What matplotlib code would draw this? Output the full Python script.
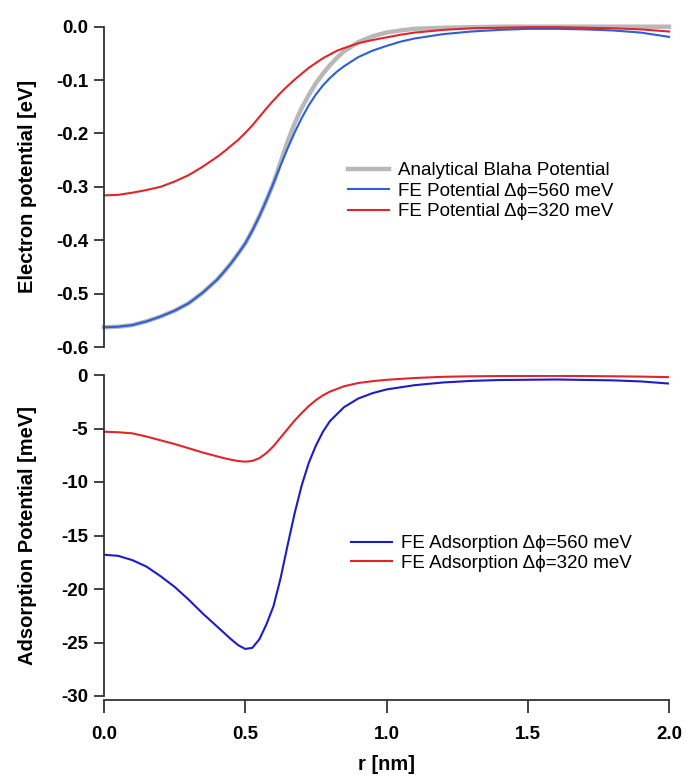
import matplotlib
matplotlib.use('Agg')
import matplotlib.pyplot as plt
from matplotlib.ticker import FormatStrFormatter

plt.rcParams['font.family'] = ['Liberation Sans', 'DejaVu Sans']
plt.rcParams['axes.unicode_minus'] = False

# top panel: electron potential [eV] vs r [nm]
r_pot = [0.0, 0.05, 0.1, 0.15, 0.2, 0.25, 0.3, 0.35, 0.4, 0.425, 0.45, 0.475, 0.5, 0.525,
         0.55, 0.575, 0.6, 0.625, 0.65, 0.675, 0.7, 0.725, 0.75, 0.775, 0.8, 0.825, 0.85,
         0.9, 0.95, 1.0, 1.05, 1.1, 1.2, 1.3, 1.4, 1.5, 1.6, 1.7, 1.8, 1.9, 2.0]
blaha = [-0.563, -0.562, -0.559, -0.552, -0.543, -0.532, -0.518, -0.498, -0.474, -0.459,
         -0.443, -0.425, -0.406, -0.382, -0.355, -0.325, -0.293, -0.254, -0.215, -0.181,
         -0.152, -0.128, -0.106, -0.088, -0.072, -0.058, -0.046, -0.029, -0.018, -0.011,
         -0.007, -0.004, -0.002, -0.001, 0.0, 0.0, 0.0, 0.0, 0.0, 0.0, 0.0]
fe_560 = [-0.563, -0.562, -0.559, -0.552, -0.543, -0.532, -0.518, -0.498, -0.474, -0.459,
          -0.443, -0.425, -0.406, -0.382, -0.355, -0.325, -0.293, -0.260, -0.228, -0.198,
          -0.171, -0.147, -0.127, -0.110, -0.096, -0.084, -0.074, -0.057, -0.045, -0.036,
          -0.028, -0.022, -0.014, -0.009, -0.006, -0.004, -0.004, -0.005, -0.007, -0.011,
          -0.019]
fe_320 = [-0.316, -0.315, -0.311, -0.306, -0.300, -0.290, -0.278, -0.262, -0.244, -0.234,
          -0.223, -0.212, -0.199, -0.185, -0.169, -0.153, -0.138, -0.124, -0.111, -0.099,
          -0.088, -0.077, -0.068, -0.059, -0.052, -0.045, -0.040, -0.031, -0.025, -0.020,
          -0.015, -0.011, -0.006, -0.003, -0.002, -0.001, -0.001, -0.002, -0.003, -0.005,
          -0.009]

# bottom panel: adsorption potential [meV]
r_ads = [0.0, 0.05, 0.1, 0.15, 0.2, 0.25, 0.3, 0.35, 0.4, 0.425, 0.45, 0.475, 0.5, 0.525,
         0.55, 0.575, 0.6, 0.625, 0.65, 0.675, 0.7, 0.725, 0.75, 0.775, 0.8, 0.85, 0.9,
         0.95, 1.0, 1.1, 1.2, 1.3, 1.4, 1.6, 1.8, 1.9, 2.0]
ads_560 = [-16.8, -16.9, -17.3, -17.9, -18.8, -19.8, -21.0, -22.3, -23.5, -24.1, -24.7,
           -25.25, -25.6, -25.5, -24.7, -23.3, -21.6, -19.0, -15.9, -12.9, -10.3, -8.2,
           -6.6, -5.3, -4.3, -3.0, -2.2, -1.7, -1.35, -0.95, -0.7, -0.55, -0.47, -0.42,
           -0.5, -0.6, -0.8]
ads_320 = [-5.3, -5.35, -5.45, -5.75, -6.1, -6.45, -6.85, -7.25, -7.6, -7.77, -7.92,
           -8.04, -8.1, -8.03, -7.77, -7.3, -6.65, -5.85, -5.05, -4.25, -3.55, -2.9,
           -2.35, -1.9, -1.55, -1.05, -0.75, -0.58, -0.45, -0.28, -0.17, -0.12, -0.1,
           -0.08, -0.12, -0.15, -0.2]

W, H = 687, 779
fig = plt.figure(figsize=(W / 100, H / 100), dpi=100)

x0, x1 = 104 / W, 669 / W
ax1 = fig.add_axes([x0, 1 - 347 / H, x1 - x0, (347 - 26.7) / H])
ax2 = fig.add_axes([x0, 1 - 696 / H, x1 - x0, (696 - 375) / H])

spine_col = '#333333'
tick_fs = 13.5
leg_fs = 13.5
lab_fs = 14.5

ax1.plot(r_pot, blaha, color='#b8b8b8', lw=3.2, label='Analytical Blaha Potential',
         clip_on=False, solid_joinstyle='round')
ax1.plot(r_pot, fe_560, color='#2b5fd9', lw=1.5, label='FE Potential Δϕ=560 meV',
         clip_on=False, solid_joinstyle='round')
ax1.plot(r_pot, fe_320, color='#e0252b', lw=1.5, label='FE Potential Δϕ=320 meV',
         clip_on=False, solid_joinstyle='round')
ax1.set_xlim(0, 2.0)
ax1.set_ylim(-0.6, 0.0)
ax1.set_yticks([0.0, -0.1, -0.2, -0.3, -0.4, -0.5, -0.6])
ax1.yaxis.set_major_formatter(FormatStrFormatter('%.1f'))
ax1.set_ylabel('Electron potential [eV]', fontsize=lab_fs, fontweight='bold')
ax1.legend(loc='upper left', bbox_to_anchor=(348 / W, 1 - 162 / H), bbox_transform=fig.transFigure,
           frameon=False, fontsize=leg_fs, handlelength=2.2, handletextpad=0.45,
           labelspacing=0.18, borderpad=0, borderaxespad=0)

ax2.plot(r_ads, ads_560, color='#1c1cc8', lw=1.5, label='FE Adsorption Δϕ=560 meV',
         solid_joinstyle='round')
ax2.plot(r_ads, ads_320, color='#e0252b', lw=1.5, label='FE Adsorption Δϕ=320 meV',
         solid_joinstyle='round')
ax2.set_xlim(0, 2.0)
ax2.set_ylim(-30, 0)
ax2.set_yticks([0, -5, -10, -15, -20, -25, -30])
ax2.set_xticks([0.0, 0.5, 1.0, 1.5, 2.0])
ax2.xaxis.set_major_formatter(FormatStrFormatter('%.1f'))
ax2.set_ylabel('Adsorption Potential [meV]', fontsize=lab_fs, fontweight='bold')
ax2.set_xlabel('r [nm]', fontsize=lab_fs, fontweight='bold', labelpad=9)
ax2.legend(loc='upper left', bbox_to_anchor=(351 / W, 1 - 535 / H), bbox_transform=fig.transFigure,
           frameon=False, fontsize=leg_fs, handlelength=2.2, handletextpad=0.45,
           labelspacing=0.12, borderpad=0, borderaxespad=0)

for ax in (ax1, ax2):
    ax.set_facecolor('none')
    for s in ('top', 'right'):
        ax.spines[s].set_visible(False)
    ax.spines['left'].set_color(spine_col)
    ax.spines['left'].set_linewidth(1.3)
    ax.tick_params(axis='y', direction='out', length=7.5, width=1.3, color=spine_col, pad=4)
    for lab in ax.get_yticklabels():
        lab.set_fontsize(tick_fs)
        lab.set_fontweight('bold')
    # both y labels line up at the same x, like the original
    ax.yaxis.set_label_coords((37 - 104) / (669 - 104), 0.5)

ax1.spines['bottom'].set_visible(False)
ax1.tick_params(axis='x', bottom=False, labelbottom=False)
ax2.spines['bottom'].set_position(('outward', 3))
ax2.spines['bottom'].set_color(spine_col)
ax2.spines['bottom'].set_linewidth(1.3)
ax2.tick_params(axis='x', direction='out', length=9.5, width=1.3, color=spine_col, pad=9)
for lab in ax2.get_xticklabels():
    lab.set_fontsize(tick_fs)
    lab.set_fontweight('bold')

fig.savefig('out.png', dpi=100)
